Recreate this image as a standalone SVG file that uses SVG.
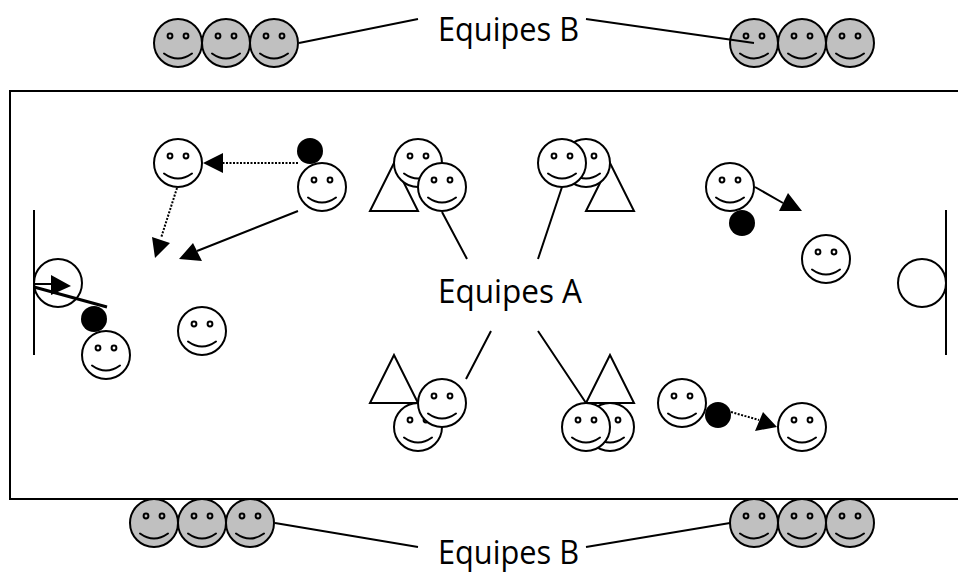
<svg xmlns="http://www.w3.org/2000/svg" xmlns:xlink="http://www.w3.org/1999/xlink" width="958" height="574" viewBox="0 0 958 574">
<style>
.o{fill:none;stroke:#000;stroke-width:2}
.tri{fill:#fff;stroke:#000;stroke-width:2;stroke-linejoin:miter}
.face{stroke:#000;stroke-width:2}
.w{fill:#fff}
.g{fill:#c0c0c0}
.eye{fill:none;stroke:#000;stroke-width:2}
.mouth{fill:none;stroke:#000;stroke-width:2;stroke-linecap:round}
.ball{fill:#000}
.head{fill:#000}
.dot{fill:none;stroke:#000;stroke-width:2;stroke-dasharray:2 1.5}
.lab{font-family:"Open Sans","Noto Sans",sans-serif;font-size:33px;fill:#000}
</style>
<defs>
<g id="fx"><circle class="eye" cx="-8" cy="-7" r="2.4"/><circle class="eye" cx="8" cy="-7" r="2.4"/><path class="mouth" d="M-14 10.5Q0 20.5 14 10.5"/></g>
</defs>
<rect width="958" height="574" fill="#fff"/>
<g id="field"><rect x="10" y="91" width="960" height="408" fill="#fff" stroke="#000" stroke-width="2"/><path class="o" d="M34 210V355M946 210V355"/></g>
<g id="triangles">
<path class="tri" d="M394 163L370 211H418Z"/><path class="tri" d="M610 163L586 211H634Z"/><path class="tri" d="M394 355L370 403H418Z"/><path class="tri" d="M610 355L586 403H634Z"/>
</g>
<g id="team-a-top-left-1"><circle class="face w" cx="418" cy="163" r="24"/><use href="#fx" x="418" y="163"/></g>
<g id="team-a-top-left-2"><circle class="face w" cx="442" cy="187" r="24"/><use href="#fx" x="442" y="187"/></g>
<g id="team-a-top-right-1"><circle class="face w" cx="586" cy="163" r="24"/><use href="#fx" x="586" y="163"/></g>
<g id="team-a-top-right-2"><circle class="face w" cx="562" cy="163" r="24"/><use href="#fx" x="562" y="163"/></g>
<g id="team-a-bottom-left-1"><circle class="face w" cx="418" cy="427" r="24"/><use href="#fx" x="418" y="427"/></g>
<g id="team-a-bottom-left-2"><circle class="face w" cx="442" cy="403" r="24"/><use href="#fx" x="442" y="403"/></g>
<g id="team-a-bottom-right-1"><circle class="face w" cx="610" cy="427" r="24"/><use href="#fx" x="610" y="427"/></g>
<g id="team-a-bottom-right-2"><circle class="face w" cx="586" cy="427" r="24"/><use href="#fx" x="586" y="427"/></g>
<g id="player-1"><circle class="face w" cx="178" cy="163" r="24"/><use href="#fx" x="178" y="163"/></g>
<g id="player-2"><circle class="face w" cx="322" cy="187" r="24"/><use href="#fx" x="322" y="187"/></g>
<g id="player-3"><circle class="face w" cx="106" cy="355" r="24"/><use href="#fx" x="106" y="355"/></g>
<g id="player-4"><circle class="face w" cx="202" cy="331" r="24"/><use href="#fx" x="202" y="331"/></g>
<g id="player-5"><circle class="face w" cx="730" cy="187" r="24"/><use href="#fx" x="730" y="187"/></g>
<g id="player-6"><circle class="face w" cx="826" cy="259" r="24"/><use href="#fx" x="826" y="259"/></g>
<g id="player-7"><circle class="face w" cx="682" cy="403" r="24"/><use href="#fx" x="682" y="403"/></g>
<g id="player-8"><circle class="face w" cx="802" cy="427" r="24"/><use href="#fx" x="802" y="427"/></g>
<g id="goalie-left"><circle class="o" cx="58" cy="283" r="24"/></g>
<g id="goalie-right"><circle class="face w" cx="922" cy="283" r="24"/></g>
<g id="balls"><circle class="ball" cx="310" cy="151" r="13"/><circle class="ball" cx="94" cy="319" r="13"/><circle class="ball" cx="742" cy="223" r="13"/><circle class="ball" cx="718" cy="415" r="13"/></g>
<g id="bench-top-left">
<circle class="face g" cx="178" cy="43" r="24"/><use href="#fx" x="178" y="43"/><circle class="face g" cx="226" cy="43" r="24"/><use href="#fx" x="226" y="43"/><circle class="face g" cx="274" cy="43" r="24"/><use href="#fx" x="274" y="43"/>
</g>
<g id="bench-top-right">
<circle class="face g" cx="754" cy="43" r="24"/><use href="#fx" x="754" y="43"/><circle class="face g" cx="802" cy="43" r="24"/><use href="#fx" x="802" y="43"/><circle class="face g" cx="850" cy="43" r="24"/><use href="#fx" x="850" y="43"/>
</g>
<g id="bench-bottom-left">
<circle class="face g" cx="154" cy="523" r="24"/><use href="#fx" x="154" y="523"/><circle class="face g" cx="202" cy="523" r="24"/><use href="#fx" x="202" y="523"/><circle class="face g" cx="250" cy="523" r="24"/><use href="#fx" x="250" y="523"/>
</g>
<g id="bench-bottom-right">
<circle class="face g" cx="754" cy="523" r="24"/><use href="#fx" x="754" y="523"/><circle class="face g" cx="802" cy="523" r="24"/><use href="#fx" x="802" y="523"/><circle class="face g" cx="850" cy="523" r="24"/><use href="#fx" x="850" y="523"/>
</g>
<g id="connectors">
<path class="o" d="M442 212L467 259M562 187L538 259M491 331L466 379M538 331L586 403"/>
<path class="o" d="M299 43L418 19M586 19L754 43M275 523L418 547M586 547L730 523"/>
<path class="dot" d="M298 163H223M177 188L161 238M731 412L759 420"/>
<path class="o" d="M298 211L197 251M755 187L783 203M35 284H53"/>
<path d="M34 287L107 307" fill="none" stroke="#000" stroke-width="3"/>
<path class="head" d="M203 163L223 153V173ZM152 237L170 243L155 258ZM193 243L202 261L179 259ZM788 193L779 211H802ZM763 412L777 427L755 431ZM51 275L71 286L51 295Z"/>
</g>
<text class="lab" x="438" y="41" textLength="141" lengthAdjust="spacingAndGlyphs">Equipes B</text>
<text class="lab" x="438" y="303" textLength="144" lengthAdjust="spacingAndGlyphs">Equipes A</text>
<text class="lab" x="438" y="564" textLength="141" lengthAdjust="spacingAndGlyphs">Equipes B</text>
</svg>
